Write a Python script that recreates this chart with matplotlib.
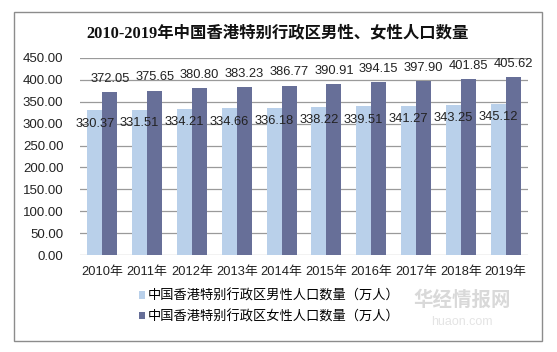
import matplotlib
matplotlib.use("Agg")
import matplotlib.pyplot as plt
from matplotlib.patches import Rectangle, Patch
import numpy as np

plt.rcParams['font.family'] = ['Liberation Sans', 'Noto Sans CJK SC', 'DejaVu Sans']

years = ["2010年", "2011年", "2012年", "2013年", "2014年", "2015年", "2016年", "2017年", "2018年", "2019年"]
male = [330.37, 331.51, 334.21, 334.66, 336.18, 338.22, 339.51, 341.27, 343.25, 345.12]
female = [372.05, 375.65, 380.80, 383.23, 386.77, 390.91, 394.15, 397.90, 401.85, 405.62]
male_name = "中国香港特别行政区男性人口数量（万人）"
female_name = "中国香港特别行政区女性人口数量（万人）"
title = "2010-2019年中国香港特别行政区男性、女性人口数量"

W, H = 557, 352
fig = plt.figure(figsize=(W / 100, H / 100), dpi=100)
fig.patch.set_facecolor("white")

def fx(px):
    return px / W

def fy(py):
    return 1 - py / H

# outer border
fig.patches.append(Rectangle((fx(14), fy(341)), fx(542) - fx(14), fy(12) - fy(341),
                             transform=fig.transFigure, fill=False, edgecolor="#8c8c8c", lw=1.0))

ax = fig.add_axes([fx(80), fy(255), fx(528) - fx(80), fy(58) - fy(255)])
light = "#b9d0ea"
dark = "#676f98"
x = np.arange(len(years))
bw = 0.335
ax.bar(x - bw / 2, male, bw, color=light, zorder=2)
ax.bar(x + bw / 2, female, bw, color=dark, zorder=2)

for xi, v in zip(x, male):
    ax.annotate(f"{v:.2f}", (xi - bw / 2, v), xytext=(0, -9.5), textcoords="offset points",
                ha="center", va="center", fontsize=9.3, color="#222222", zorder=3)
for xi, v in zip(x, female):
    ax.annotate(f"{v:.2f}", (xi + bw / 2, v), xytext=(0, 9.5), textcoords="offset points",
                ha="center", va="center", fontsize=9.3, color="#222222", zorder=3)

ax.set_xlim(-0.5, len(years) - 0.5)
ax.set_ylim(0, 450)
ax.set_yticks(np.arange(0, 451, 50))
ax.set_yticklabels([f"{t:.2f}" for t in np.arange(0, 451, 50)], fontsize=9.5)
ax.set_xticks(x)
ax.set_xticklabels(years, fontsize=9.3)
ax.tick_params(axis="both", length=0, colors="#222222")
ax.tick_params(axis="x", pad=8)
ax.tick_params(axis="y", pad=12)
ax.grid(axis="y", color="#9a9a9a", lw=0.9, zorder=0)
for s in ax.spines.values():
    s.set_visible(False)
ax.set_facecolor("white")

fig.text(fx(278), fy(33), title, ha="center", va="center", fontsize=11.8, fontweight="bold",
         family=["Liberation Serif", "Noto Sans CJK SC"], color="#111111")

handles = [Patch(facecolor=light, label=male_name), Patch(facecolor=dark, label=female_name)]
fig.legend(handles=handles, loc="upper left", bbox_to_anchor=(fx(136), fy(287)),
           frameon=False, handlelength=0.5, handleheight=0.5,
           handletextpad=0.2, labelspacing=0.55, borderaxespad=0, borderpad=0.2,
           prop={"family": ["Noto Sans CJK SC"], "size": 9.5})

fig.text(fx(462), fy(300), "华经情报网", ha="center", va="center", fontsize=14,
         family=["Noto Sans CJK SC"], color="#d9d9d9", fontweight="bold")
fig.text(fx(462), fy(322), "huaon.com", ha="center", va="center", fontsize=9,
         color="#e4e4e4")

fig.savefig("out.png", dpi=100, facecolor="white")
